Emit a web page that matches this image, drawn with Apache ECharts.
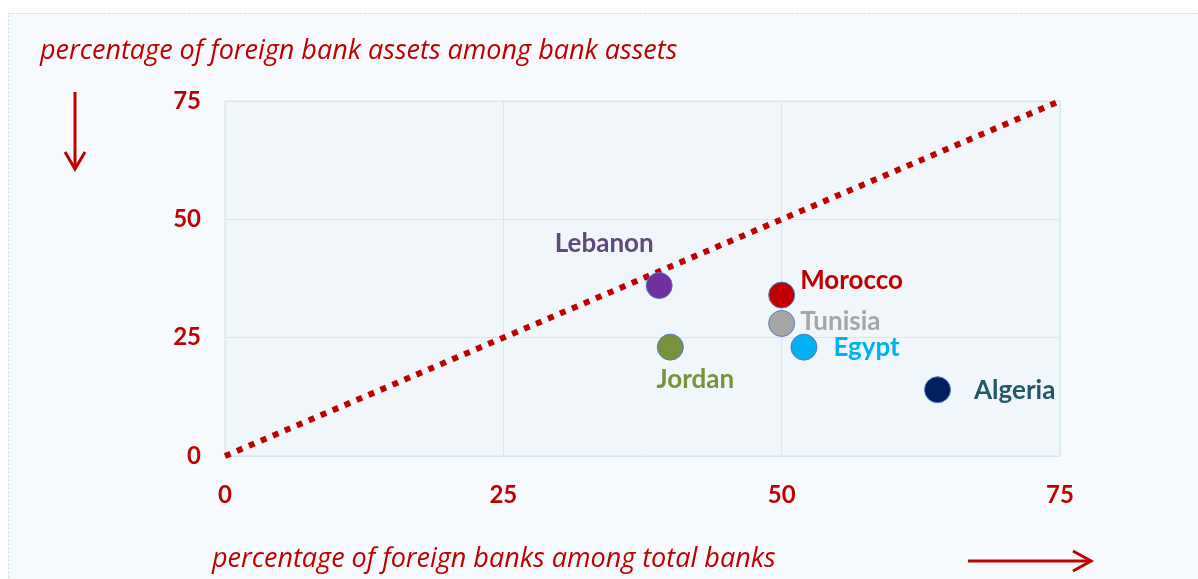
<!DOCTYPE html>
<html>
<head>
<meta charset="utf-8">
<script src="https://cdn.jsdelivr.net/npm/echarts@6/dist/echarts.min.js"></script>
<style>
  html, body { margin: 0; padding: 0; background: #ffffff; }
  #main { width: 1198px; height: 579px; }
</style>
</head>
<body>
<div id="main"></div>
<script type="text/javascript">

// countries, share of foreign banks (x) and share of foreign bank assets (y)
var countries = ['Lebanon', 'Morocco', 'Tunisia', 'Egypt', 'Jordan', 'Algeria'];
var foreignBanks = [39, 50, 50, 52, 40, 64];
var foreignAssets = [36, 34, 28, 23, 23, 14];
var xTicks = [0, 25, 50, 75];
var yTicks = [0, 25, 50, 75];
var diagonal = [[0, 0], [75, 75]];

var red = '#c00000';

// per-country look (colour of marker and label, label placement)
var looks = {
    Lebanon: { color: '#7030a0', text: '#604a7b', pos: 'inside', offset: [-55, -42] },
    Morocco: { color: '#c00000', text: '#c00000', pos: 'right', offset: [0, -14], dist: 5 },
    Tunisia: { color: '#a6a6a6', text: '#a6a6a6', pos: 'right', offset: [0, -2], dist: 5 },
    Egypt:   { color: '#00b0f0', text: '#00b0f0', pos: 'right', offset: [0, 0], dist: 16 },
    Jordan:  { color: '#77933c', text: '#77933c', pos: 'inside', offset: [25, 32] },
    Algeria: { color: '#002060', text: '#215968', pos: 'right', offset: [0, 1], dist: 23 }
};

var points = [];
for (var i = 0; i < countries.length; i++) {
    var lk = looks[countries[i]];
    points.push({
        name: countries[i],
        value: [foreignBanks[i], foreignAssets[i]],
        itemStyle: { color: lk.color, opacity: 1, borderColor: '#4f7fbf', borderWidth: 1 },
        label: {
            show: true,
            formatter: '{b}',
            position: lk.pos,
            distance: lk.dist || 0,
            offset: lk.offset,
            color: lk.text,
            fontFamily: 'Lato',
            fontWeight: 'bold',
            fontSize: 26
        }
    });
}

var option = {
    backgroundColor: '#ffffff',
    animation: false,
    grid: {
        left: 225, right: 138, top: 101, bottom: 123,
        show: true,
        backgroundColor: '#f1f6fa',
        borderColor: '#d6e6ee',
        borderWidth: 1
    },
    xAxis: {
        type: 'value',
        min: 0, max: 75, interval: 25,
        axisLine: { show: false },
        axisTick: { show: false },
        splitLine: { lineStyle: { color: '#d3e8f0', width: 1 } },
        axisLabel: {
            margin: 27,
            color: red, fontFamily: 'Lato', fontWeight: 'bold', fontSize: 24,
            formatter: function (v) { return xTicks.indexOf(v) >= 0 ? String(v) : ''; }
        }
    },
    yAxis: {
        type: 'value',
        min: 0, max: 75, interval: 25,
        axisLine: { show: false },
        axisTick: { show: false },
        splitLine: { lineStyle: { color: '#d3e8f0', width: 1 } },
        axisLabel: {
            margin: 24,
            color: red, fontFamily: 'Lato', fontWeight: 'bold', fontSize: 24,
            formatter: function (v) { return yTicks.indexOf(v) >= 0 ? String(v) : ''; }
        }
    },
    graphic: [
        // outer dotted frame
        {
            type: 'rect', z: -10, silent: true,
            shape: { x: 8.5, y: 13.5, width: 1200, height: 580 },
            style: { fill: '#f7fafc', stroke: '#bcdbe6', lineWidth: 1, lineDash: [2, 2] }
        },
        {
            type: 'text', left: 40, top: 38,
            style: {
                text: 'percentage of foreign bank assets among bank assets',
                fill: red, fontFamily: 'Open Sans', fontStyle: 'italic', fontSize: 27
            }
        },
        {
            type: 'text', left: 212, top: 546,
            style: {
                text: 'percentage of foreign banks among total banks',
                fill: red, fontFamily: 'Open Sans', fontStyle: 'italic', fontSize: 27
            }
        },
        // down arrow
        {
            type: 'polyline', silent: true,
            shape: { points: [[75, 92], [75, 169]] },
            style: { stroke: red, lineWidth: 3, fill: null }
        },
        {
            type: 'polyline', silent: true,
            shape: { points: [[65, 152], [75, 169], [85, 152]] },
            style: { stroke: red, lineWidth: 3, fill: null }
        },
        // right arrow
        {
            type: 'polyline', silent: true,
            shape: { points: [[968, 561], [1091, 561]] },
            style: { stroke: red, lineWidth: 3, fill: null }
        },
        {
            type: 'polyline', silent: true,
            shape: { points: [[1073, 551], [1091, 561], [1073, 571]] },
            style: { stroke: red, lineWidth: 3, fill: null }
        }
    ],
    series: [
        {
            type: 'line',
            data: diagonal,
            symbol: 'none',
            silent: true,
            z: 1,
            lineStyle: { color: red, width: 6, type: [6, 7], cap: 'butt' }
        },
        {
            type: 'scatter',
            data: points,
            symbolSize: 26,
            z: 3
        }
    ]
};

var chart = echarts.init(document.getElementById('main'));
chart.setOption(option);
</script>
</body>
</html>
